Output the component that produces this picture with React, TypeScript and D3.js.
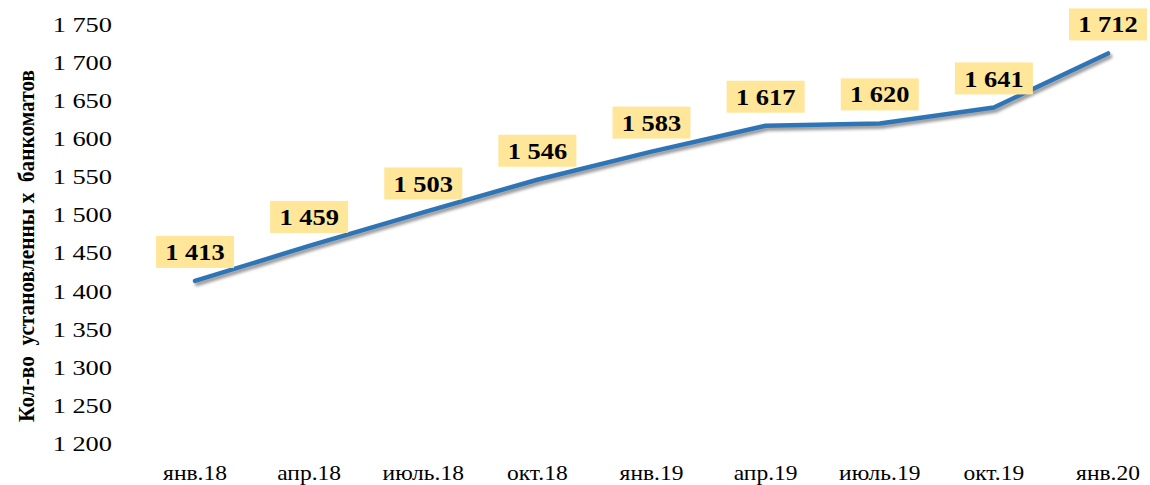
import React from "react";
import * as d3 from "d3";

const categories = ["янв.18", "апр.18", "июль.18", "окт.18", "янв.19", "апр.19", "июль.19", "окт.19", "янв.20"];
const values = [1413, 1459, 1503, 1546, 1583, 1617, 1620, 1641, 1712];
const yTicks = [1200, 1250, 1300, 1350, 1400, 1450, 1500, 1550, 1600, 1650, 1700, 1750];
const yTitle = "Кол-во  установленны х  банкоматов";

const fmt = (v: number) => {
  const s = String(v);
  return s.length > 3 ? s.slice(0, s.length - 3) + "\u00a0" + s.slice(-3) : s;
};

export default function App() {
  const W = 1150, H = 485;
  const x = d3.scalePoint<string>().domain(categories).range([195, 1108]);
  const y = d3.scaleLinear().domain([1200, 1750]).range([443, 24.5]);
  const line = d3.line<number>().x((_, i) => x(categories[i])!).y((d) => y(d));
  const serif = { fontFamily: "Liberation Serif" };
  return (
    <svg width={W} height={H} style={{ position: "absolute", left: 0, top: 0, background: "#fff" }}>
      <defs>
        <filter id="sh" x="-10%" y="-50%" width="120%" height="200%">
          <feDropShadow dx="2" dy="3" stdDeviation="1.5" floodColor="#7f7f7f" floodOpacity="0.8" />
        </filter>
      </defs>
      {yTicks.map((t) => (
        <text key={t} transform={`translate(112,${y(t)}) scale(1.2,1)`} textAnchor="end" dy="0.35em"
          style={serif} fontSize={22} fill="#000">{fmt(t)}</text>
      ))}
      {categories.map((c) => (
        <text key={c} transform={`translate(${x(c)},480) scale(1.12,1)`} textAnchor="middle"
          style={serif} fontSize={21} fill="#000">{c}</text>
      ))}
      <text transform={`translate(34,246) rotate(-90)`} textAnchor="middle"
        style={{ ...serif, whiteSpace: "pre" }}
        fontWeight="bold" fontSize={23} textLength={352} lengthAdjust="spacingAndGlyphs" fill="#000">{yTitle}</text>
      <path d={line(values) || ""} fill="none" stroke="#2E75B6" strokeWidth={4.5}
        strokeLinecap="round" strokeLinejoin="round" filter="url(#sh)" />
      {values.map((v, i) => {
        const cx = x(categories[i])!;
        const cy = y(v) - 29;
        return (
          <g key={i}>
            <rect x={cx - 39} y={cy - 16} width={78} height={32} fill="#FFE699" />
            <text transform={`translate(${cx},${cy}) scale(1.15,1)`} textAnchor="middle" dy="0.35em"
              style={serif} fontWeight="bold" fontSize={23} fill="#000">{fmt(v)}</text>
          </g>
        );
      })}
    </svg>
  );
}
